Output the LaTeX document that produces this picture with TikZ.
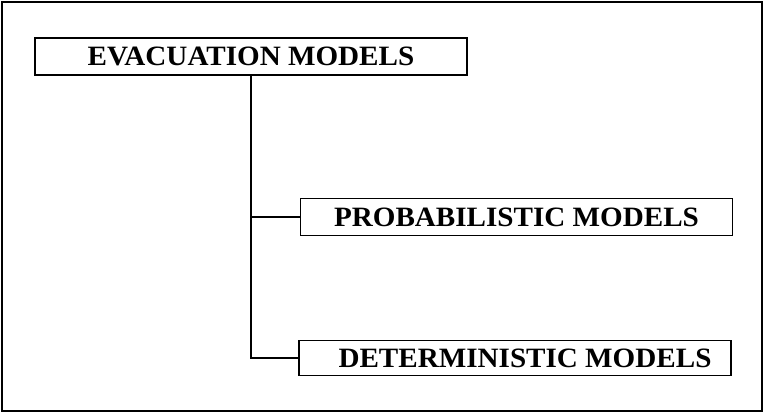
\documentclass[tikz,border=0pt]{standalone}
\usepackage{fontspec}
\setmainfont{Liberation Serif}[FakeStretch=1.04]
\begin{document}
\begin{tikzpicture}[
x=1pt, y=-1pt,
every node/.style={draw, line width=1.2pt, inner sep=0pt, font=\fontsize{28}{30}\selectfont\bfseries},
modelbox/.style={minimum width=432pt, minimum height=37pt},
link/.style={line width=1.2pt}
]
\useasboundingbox (0,0) rectangle (764,413);
\draw[line width=1.2pt] (2,2) rectangle (762,411);
\node[modelbox] (evac) at (251,56.5) {EVACUATION MODELS};
\node[modelbox] (prob) at (516.5,217) {PROBABILISTIC MODELS};
\node[modelbox, minimum height=35pt] (det) at (515,358) {\hspace{20pt}DETERMINISTIC MODELS};
\draw[link] (evac.south) |- (prob.west);
\draw[link] (evac.south) |- (det.west);
\end{tikzpicture}
\end{document}
